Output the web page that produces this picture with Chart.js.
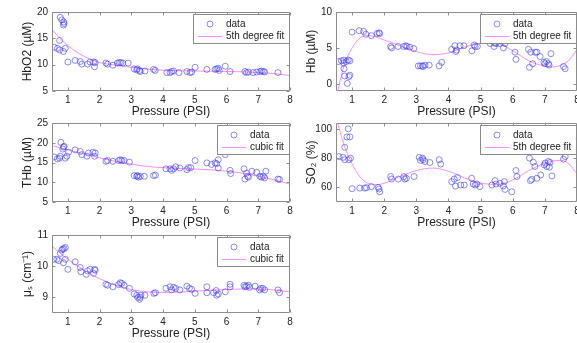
<!DOCTYPE html>
<html><head><meta charset="utf-8">
<script src="https://cdn.jsdelivr.net/npm/chart.js@4/dist/chart.umd.min.js"></script>
<style>
html,body{margin:0;padding:0;background:#fff;width:577px;height:343px;overflow:hidden}
canvas{position:absolute;left:0;top:0}
</style></head><body>
<canvas id="p1" width="600" height="343"></canvas>
<canvas id="p2" width="600" height="343"></canvas>
<canvas id="p3" width="600" height="343"></canvas>
<canvas id="p4" width="600" height="343"></canvas>
<canvas id="p5" width="600" height="343"></canvas>
<script>
// ---------- data ----------
const xTicks = [1,2,3,4,5,6,7,8];
const fitX = [0.5,0.75,1,1.25,1.5,1.75,2,2.5,3,3.5,4,4.5,5,5.5,6,6.5,7,7.25,7.5,7.75,8];

const hbo2Data = [[0.76,19.0],[0.81,18.5],[0.87,18.1],[0.88,17.8],[0.86,17.5],[0.74,14.6],[0.57,13.3],[0.67,13.1],[0.74,12.8],[0.86,12.5],[0.92,13.1],[1.0,10.5],[1.23,10.8],[1.39,10.6],[1.44,10.1],[1.62,10.1],[1.7,10.5],[1.81,10.5],[1.84,9.6],[1.86,10.4],[2.2,10.3],[2.25,10.1],[2.42,9.9],[2.56,10.3],[2.62,10.4],[2.67,10.4],[2.73,10.3],[2.9,10.3],[3.09,9.2],[3.17,9.0],[3.19,9.2],[3.26,8.9],[3.28,8.7],[3.43,8.8],[3.7,9.1],[3.75,8.9],[4.12,8.5],[4.22,8.5],[4.27,8.7],[4.33,8.8],[4.5,8.5],[4.75,8.7],[4.85,8.5],[4.9,8.6],[5.01,9.5],[5.38,9.1],[5.64,9.1],[5.69,9.2],[5.74,9.3],[5.77,8.9],[5.96,9.7],[6.11,8.7],[6.58,8.7],[6.63,8.5],[6.69,8.6],[6.84,8.5],[6.95,8.6],[7.05,8.7],[7.1,8.8],[7.16,8.7],[7.2,8.6],[7.62,8.5]];
const hbo2Fit = [16.7,15.0,13.6,12.5,11.6,10.9,10.4,9.9,9.5,9.15,8.95,8.85,8.8,8.75,8.7,8.65,8.5,8.4,8.3,8.15,7.9];
const hbo2Ticks = [5,10,15,20];

const hbData = [[0.58,3.1],[0.67,3.2],[0.74,3.3],[0.74,2.9],[0.82,3.1],[0.88,3.3],[0.93,3.2],[0.75,2.1],[0.77,1.1],[0.85,0.05],[0.9,1.0],[0.93,1.2],[1.0,7.2],[1.22,7.4],[1.36,7.3],[1.43,6.9],[1.6,6.7],[1.78,7.0],[1.84,7.1],[1.86,7.0],[2.2,5.2],[2.23,5.0],[2.43,5.2],[2.61,5.2],[2.67,5.3],[2.71,5.2],[2.8,5.1],[2.92,4.9],[3.06,2.5],[3.13,2.5],[3.19,2.5],[3.21,2.4],[3.27,2.6],[3.4,2.6],[3.71,2.5],[3.79,3.0],[4.1,4.8],[4.2,5.3],[4.23,4.5],[4.25,4.7],[4.36,5.3],[4.48,5.3],[4.73,4.6],[4.8,5.4],[4.83,5.2],[4.9,5.2],[5.3,5.6],[5.42,5.2],[5.45,5.7],[5.48,5.6],[5.6,5.6],[5.71,5.0],[5.76,5.6],[6.07,4.4],[6.1,3.4],[6.49,4.8],[6.52,2.3],[6.56,4.4],[6.62,2.8],[6.7,4.4],[6.75,4.4],[6.85,3.8],[6.97,3.0],[7.0,2.8],[7.05,3.1],[7.11,2.8],[7.13,2.6],[7.19,4.2],[7.58,2.4],[7.63,2.1]];
const hbFit = [-2.0,2.5,5.0,6.4,6.75,6.5,6.1,5.3,4.5,4.05,4.3,5.1,5.6,5.6,4.6,3.2,2.45,2.35,2.6,3.3,4.8];
const hbTicks = [0,5,10];

const thbData = [[0.57,16.4],[0.67,15.9],[0.74,16.1],[0.76,16.6],[0.78,20.1],[0.84,18.4],[0.86,18.9],[0.88,19.1],[0.92,16.1],[0.97,16.6],[1.02,17.6],[1.23,18.2],[1.39,17.8],[1.44,17.0],[1.6,16.6],[1.65,17.4],[1.79,17.6],[1.84,16.6],[1.86,17.4],[2.2,15.3],[2.25,15.5],[2.42,15.3],[2.6,15.5],[2.65,15.7],[2.7,15.5],[2.77,15.5],[2.94,15.1],[3.09,11.7],[3.17,11.5],[3.19,11.7],[3.22,11.3],[3.28,11.5],[3.41,11.5],[3.7,11.7],[3.76,11.8],[4.09,13.4],[4.22,13.4],[4.27,13.0],[4.33,13.4],[4.4,13.9],[4.53,13.6],[4.75,13.2],[4.8,13.7],[4.87,13.7],[5.01,15.5],[5.38,14.9],[5.53,14.5],[5.64,14.9],[5.69,14.7],[5.74,15.7],[5.74,13.6],[5.96,17.0],[6.11,13.0],[6.13,12.2],[6.55,13.4],[6.58,10.8],[6.63,12.3],[6.66,11.5],[6.69,11.3],[6.8,12.8],[6.95,12.5],[7.05,11.5],[7.1,11.3],[7.16,11.5],[7.2,11.1],[7.24,12.8],[7.62,10.8],[7.67,10.7]];
const thbFit = [19.3,18.7,18.2,17.7,17.2,16.7,16.2,15.3,14.6,14.0,13.7,13.5,13.35,13.15,12.8,12.3,11.5,11.1,10.6,10.1,9.5];
const thbTicks = [5,10,15,20,25];

const so2Data = [[0.59,81.1],[0.72,80.5],[0.77,78.9],[0.77,87.4],[0.84,94.5],[0.88,100],[0.9,78.9],[0.93,94.5],[0.95,80],[1.0,59.1],[1.24,59.5],[1.39,59.5],[1.45,59.8],[1.6,60.5],[1.81,60],[1.84,58.9],[1.86,57],[2.2,67.4],[2.23,65.7],[2.44,65.7],[2.61,67.4],[2.64,65.7],[2.69,66.2],[2.93,67.4],[3.09,80.5],[3.13,78.4],[3.19,80],[3.21,78.9],[3.27,77.7],[3.42,77],[3.71,78.9],[3.76,75.9],[4.1,63.9],[4.18,65.7],[4.22,60.9],[4.28,66.7],[4.38,61.6],[4.49,61.6],[4.72,66.2],[4.77,62.3],[4.83,61.6],[4.88,62.3],[4.98,60.5],[5.35,61.6],[5.45,64.6],[5.48,62.3],[5.6,62.8],[5.71,60.9],[5.74,63.9],[5.76,58.6],[5.97,57],[6.1,71.5],[6.13,67.4],[6.52,80],[6.55,64.6],[6.59,65.5],[6.64,77.2],[6.69,74.3],[6.75,66.2],[6.87,68.5],[6.98,75.4],[7.01,76.6],[7.06,74.3],[7.11,77.7],[7.14,73.8],[7.16,77],[7.22,67.8],[7.58,79.3],[7.63,81.1]];
const so2Fit = [108,89,76,67,62.8,61.8,62.8,67.5,71.5,73.2,71,66.5,63,62,65,71.5,76.5,78,78.5,76,69];
const so2Ticks = [60,80,100];

const musData = [[0.55,10.22],[0.65,10.22],[0.71,10.18],[0.76,10.41],[0.81,10.52],[0.84,10.55],[0.88,10.57],[0.92,10.6],[0.86,10.11],[0.92,10.22],[1.0,9.9],[1.23,10.14],[1.39,9.96],[1.41,9.82],[1.58,9.74],[1.62,9.85],[1.7,9.9],[1.81,9.77],[1.84,9.9],[1.86,9.87],[2.2,9.42],[2.25,9.39],[2.42,9.34],[2.6,9.41],[2.65,9.47],[2.7,9.45],[2.77,9.39],[2.94,9.29],[3.09,9.11],[3.17,9.07],[3.2,9.0],[3.26,8.94],[3.28,9.0],[3.3,9.07],[3.43,9.07],[3.71,9.13],[3.76,9.15],[4.09,9.29],[4.22,9.34],[4.27,9.24],[4.33,9.32],[4.4,9.29],[4.53,9.24],[4.75,9.36],[4.83,9.29],[4.9,9.26],[5.01,9.13],[5.38,9.34],[5.38,9.15],[5.59,9.15],[5.67,9.22],[5.69,9.07],[5.74,9.11],[5.96,9.18],[6.11,9.42],[6.11,9.34],[6.55,9.39],[6.58,9.34],[6.63,9.36],[6.69,9.39],[6.72,9.32],[6.9,9.36],[7.04,9.24],[7.08,9.29],[7.14,9.29],[7.2,9.24],[7.62,9.24],[7.67,9.15]];
const musFit = [10.65,10.42,10.22,10.04,9.88,9.73,9.6,9.39,9.25,9.18,9.16,9.17,9.2,9.23,9.25,9.27,9.27,9.26,9.24,9.21,9.18];
const musTicks = [9,10,11];

const xTitle = 'Pressure (PSI)';
// ---------- styling ----------
const FONT = '"Liberation Sans", Arial, Helvetica, sans-serif';
const AXIS_C = '#8c8c8c', TXT_C = '#222', DATA_C = 'rgba(60,60,255,0.6)', FIT_C = '#ff8cff';
const W = 600, H = 343;

const boxPlugin = {
  id: 'matlabBox',
  afterDatasetsDraw(chart) {
    const {ctx, chartArea: a, scales: {x, y}} = chart;
    ctx.save();
    ctx.strokeStyle = AXIS_C; ctx.lineWidth = 1;
    const L = a.left + 0.5, R = a.right - 0.5, T = a.top + 0.5, B = a.bottom - 0.5;
    ctx.beginPath();
    ctx.rect(L, T, R - L, B - T);
    x.ticks.forEach(t => { const p = Math.round(x.getPixelForValue(t.value)) + 0.5;
      ctx.moveTo(p, B); ctx.lineTo(p, B - 3); ctx.moveTo(p, T); ctx.lineTo(p, T + 3); });
    y.ticks.forEach(t => { const p = Math.round(y.getPixelForValue(t.value)) + 0.5;
      ctx.moveTo(L, p); ctx.lineTo(L + 3, p); ctx.moveTo(R, p); ctx.lineTo(R - 3, p); });
    ctx.stroke();
    // legend
    const ds = chart.data.datasets;
    ctx.font = '10px ' + FONT;
    const tw = Math.max(...ds.map(d => ctx.measureText(d.label).width));
    const w = Math.round(33 + tw + 5), h = 29;
    const right = Math.round(a.right) - 1, top = Math.round(a.top) + 2, left = right - w;
    ctx.fillStyle = '#fff'; ctx.fillRect(left, top, w, h);
    ctx.strokeStyle = AXIS_C; ctx.strokeRect(left + 0.5, top + 0.5, w, h);
    const r1 = top + 10, r2 = top + 22.5;
    ctx.beginPath(); ctx.strokeStyle = DATA_C; ctx.lineWidth = 1;
    ctx.arc(left + 17, r1, 3, 0, Math.PI * 2); ctx.stroke();
    ctx.beginPath(); ctx.strokeStyle = FIT_C; ctx.moveTo(left + 5, r2); ctx.lineTo(left + 29, r2); ctx.stroke();
    ctx.fillStyle = TXT_C; ctx.textBaseline = 'middle'; ctx.textAlign = 'left';
    ctx.fillText(ds[0].label, left + 33, r1);
    ctx.fillText(ds[1].label, left + 33, r2);
    ctx.restore();
  }
};

function makePanel(id, rect, pts, fitY, yMin, yMax, yTicks, yTitle, fitLabel) {
  const yAxisW = 52, xAxisH = 28.2;
  new Chart(document.getElementById(id), {
    type: 'scatter',
    data: { datasets: [
      { type: 'scatter', label: 'data', data: pts.map(p => ({x: p[0], y: p[1]})), showLine: false,
        pointStyle: 'circle', pointRadius: 3, pointHoverRadius: 3, pointBorderWidth: 1,
        borderColor: DATA_C, backgroundColor: 'rgba(0,0,0,0)' },
      { type: 'line', label: fitLabel, data: fitX.map((x, i) => ({x, y: fitY[i]})),
        borderColor: FIT_C, borderWidth: 1, pointRadius: 0, fill: false, cubicInterpolationMode: 'monotone' }
    ]},
    options: {
      responsive: false, animation: false, events: [], devicePixelRatio: 1,
      layout: { padding: { left: rect.left - yAxisW, top: rect.top, right: W - rect.right, bottom: H - rect.bottom - xAxisH } },
      plugins: { legend: { display: false }, tooltip: { enabled: false } },
      scales: {
        x: { type: 'linear', min: 0.5, max: 8, offset: false,
          afterBuildTicks: s => { s.ticks = xTicks.map(v => ({value: v})); },
          afterFit: s => { s.height = xAxisH; s.paddingLeft = 0; s.paddingRight = 0; },
          grid: { display: false, drawTicks: false }, border: { display: false },
          ticks: { autoSkip: false, maxRotation: 0, padding: 3, color: TXT_C, font: { family: FONT, size: 10 } },
          title: { display: true, text: xTitle, color: TXT_C, padding: { top: 0, bottom: 0 }, font: { family: FONT, size: 12 } } },
        y: { type: 'linear', min: yMin, max: yMax,
          afterBuildTicks: s => { s.ticks = yTicks.map(v => ({value: v})); },
          afterFit: s => { s.width = yAxisW; s.paddingTop = 0; s.paddingBottom = 0; },
          grid: { display: false, drawTicks: false }, border: { display: false },
          ticks: { autoSkip: false, padding: 4, color: TXT_C, font: { family: FONT, size: 10 } },
          title: { display: true, text: yTitle, color: TXT_C, padding: { top: 20.8, bottom: 0 }, font: { family: FONT, size: 12 } } }
      }
    },
    plugins: [boxPlugin]
  });
}

makePanel('p1', {left: 52, right: 290, top: 12, bottom: 91}, hbo2Data, hbo2Fit, 5, 20, hbo2Ticks, 'HbO2 (\u00b5M)', '5th degree fit');
makePanel('p2', {left: 336, right: 577, top: 12, bottom: 91}, hbData, hbFit, -1, 10, hbTicks, 'Hb (\u00b5M)', '5th degree fit');
makePanel('p3', {left: 52, right: 290, top: 123, bottom: 202}, thbData, thbFit, 5, 25, thbTicks, 'THb (\u00b5M)', 'cubic fit');
makePanel('p4', {left: 336, right: 577, top: 123, bottom: 202}, so2Data, so2Fit, 50, 104, so2Ticks, 'SO\u2082 (%)', '5th degree fit');
makePanel('p5', {left: 52, right: 290, top: 235, bottom: 313}, musData, musFit, 8.5, 11, musTicks, '\u03bc\u209b (cm\u207b\u00b9)', 'cubic fit');
</script>
</body></html>
